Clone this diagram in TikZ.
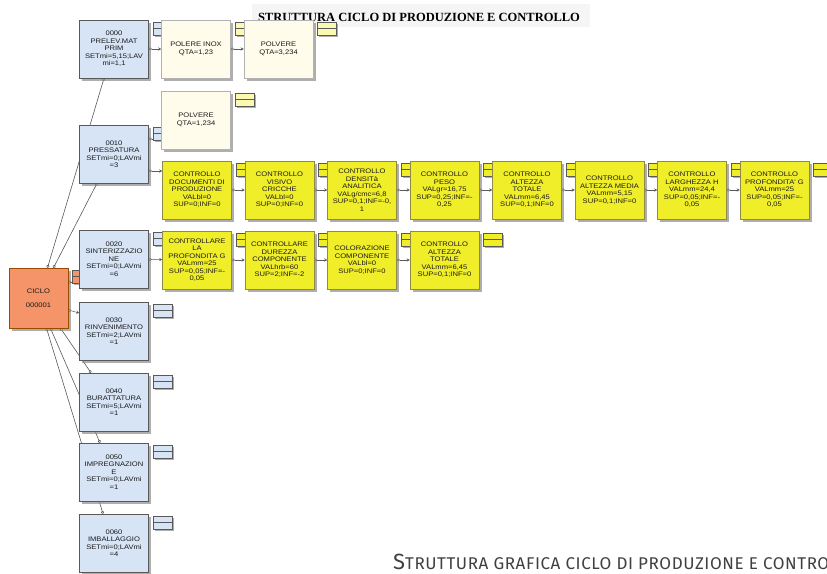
\documentclass[tikz,border=0pt]{standalone}
\usepackage{fontspec}
\setmainfont{Liberation Serif}
\newfontfamily\boxfont[FakeStretch=1.15]{Liberation Sans}
\newfontfamily\capfont[LetterSpace=3.5]{Fira Sans}
\usetikzlibrary{arrows.meta,positioning,shadows,backgrounds}
\definecolor{phasec}{RGB}{214,228,245}
\definecolor{ctrlc}{RGB}{240,238,40}
\definecolor{matc}{RGB}{255,252,236}
\definecolor{cicloc}{RGB}{245,148,104}
\definecolor{linec}{RGB}{90,90,90}

\begin{document}
\begin{tikzpicture}[x=1pt,y=-1pt,font=\boxfont\fontsize{6.6}{7.5}\selectfont,>=Stealth,node distance=13pt]
\tikzstyle{box}=[draw=gray!70!black,line width=0.5pt,minimum width=69pt,minimum height=58pt,inner sep=1pt,align=center,text=black!90,drop shadow={shadow xshift=2.5pt,shadow yshift=-2.5pt,fill=black!45,opacity=.7}]
\tikzstyle{fase}=[box,fill=phasec]
\tikzstyle{ctrl}=[box,fill=ctrlc,draw=olive!50!gray]
\tikzstyle{mat}=[box,fill=matc,draw=gray!60]
\tikzstyle{tabb}=[draw=gray!70!black,line width=0.5pt,minimum width=19pt,minimum height=13pt,inner sep=0pt,anchor=north west,drop shadow={shadow xshift=1.5pt,shadow yshift=-1.5pt,fill=black!45,opacity=.7}]
\tikzstyle{link}=[linec,line width=0.5pt,{Circle[open,length=3pt,width=3pt]}-{Stealth[length=3pt,width=3pt]}]
\tikzstyle{vlink}=[linec,line width=0.6pt,{Circle[open,length=3pt,width=3pt]}-{Circle[open,length=3pt,width=3pt]}]
\useasboundingbox (0,0) rectangle (827,573);
% titolo
\node[font=\rmfamily\bfseries\fontsize{12.5}{14}\selectfont,inner sep=1pt] (titolo) at (419,17) {STRUTTURA CICLO DI PRODUZIONE E CONTROLLO};
% ciclo
\node[box,fill=cicloc,draw=orange!60!black,minimum width=59pt,minimum height=60pt] (ciclo) at (38.5,298) {CICLO\\[7pt]000001};
% fasi
\node[fase] (p0) at (114,49) {0000\\PRELEV.MAT\\PRIM\\SETmi=5,15;LAV\\mi=1,1};
\node[fase] (p1) at (114,154) {0010\\PRESSATURA\\SETmi=0;LAVmi\\=3};
\node[fase] (p2) at (114,259) {0020\\SINTERIZZAZIO\\NE\\SETmi=0;LAVmi\\=6};
\node[fase] (p3) at (114,331) {0030\\RINVENIMENTO\\SETmi=2;LAVmi\\=1};
\node[fase] (p4) at (114,402) {0040\\BURATTATURA\\SETmi=5;LAVmi\\=1};
\node[fase] (p5) at (114,472) {0050\\IMPREGNAZION\\E\\SETmi=0;LAVmi\\=1};
\node[fase] (p6) at (114,543) {0060\\IMBALLAGGIO\\SETmi=0;LAVmi\\=4};
% materiali
\node[mat] (m1) at (196,49) {POLERE INOX\\QTA=1,23};
\node[mat,right=of m1] (m2) {POLVERE\\QTA=3,234};
\node[mat] (m3) at (196,120) {POLVERE\\QTA=1,234};
% controlli pressatura
\node[ctrl] (c1) at (197,190) {CONTROLLO\\DOCUMENTI DI\\PRODUZIONE\\VALbl=0\\SUP=0;INF=0};
\node[ctrl,right=of c1] (c2) {CONTROLLO\\VISIVO\\CRICCHE\\VALbl=0\\SUP=0;INF=0};
\node[ctrl,right=of c2] (c3) {CONTROLLO\\DENSITà\\ANALITICA\\VALg/cmc=6,8\\SUP=0,1;INF=-0,\\1};
\node[ctrl,right=of c3] (c4) {CONTROLLO\\PESO\\VALgr=16,75\\SUP=0,25;INF=-\\0,25};
\node[ctrl,right=of c4] (c5) {CONTROLLO\\ALTEZZA\\TOTALE\\VALmm=6,45\\SUP=0,1;INF=0};
\node[ctrl,right=of c5] (c6) {CONTROLLO\\ALTEZZA MEDIA\\VALmm=5,15\\SUP=0,1;INF=0};
\node[ctrl,right=of c6] (c7) {CONTROLLO\\LARGHEZZA H\\VALmm=24,4\\SUP=0,05;INF=-\\0,05};
\node[ctrl,right=of c7] (c8) {CONTROLLO\\PROFONDITA' G\\VALmm=25\\SUP=0,05;INF=-\\0,05};
% controlli sinterizzazione
\node[ctrl] (d1) at (197,260) {CONTROLLARE\\LA\\PROFONDITA G\\VALmm=25\\SUP=0,05;INF=-\\0,05};
\node[ctrl,right=of d1] (d2) {CONTROLLARE\\DUREZZA\\COMPONENTE\\VALhrb=60\\SUP=2;INF=-2};
\node[ctrl,right=of d2] (d3) {COLORAZIONE\\COMPONENTE\\VALbl=0\\SUP=0;INF=0};
\node[ctrl,right=of d3] (d4) {CONTROLLO\\ALTEZZA\\TOTALE\\VALmm=6,45\\SUP=0,1;INF=0};
% didascalia
\node[anchor=base west,inner sep=0pt,text=black!75,font=\capfont] (didascalia) at (393,569) {{\fontsize{22}{22}\selectfont S}{\fontsize{17}{17}\selectfont TRUTTURA GRAFICA CICLO DI PRODUZIONE E CONTROLLO}};

\begin{pgfonlayer}{background}
\fill[white] (0,0) rectangle (827,573);
\fill[gray!8] (252,4) rectangle (590,27);
% collegamenti del ciclo
\draw[vlink] ([xshift=9pt]ciclo.north) -- ([xshift=-10pt]p0.south);
\draw[vlink] ([xshift=15pt]ciclo.north) -- ([xshift=-17pt]p1.south);
\draw[link] ([yshift=16pt]ciclo.east) -- ([yshift=-23pt]p2.west);
\draw[link] ([yshift=-12pt]ciclo.east) -- ([yshift=18pt]p3.west);
\draw[vlink] ([xshift=22pt]ciclo.south) -- ([xshift=-23pt]p4.north);
\draw[vlink] ([xshift=12pt]ciclo.south) -- ([xshift=-14pt]p5.north);
\draw[vlink] ([xshift=8pt]ciclo.south) -- ([xshift=-11pt]p6.north);
% collegamenti orizzontali
\draw[link] (p0) -- (m1);
\draw[link] (m1) -- (m2);
\draw[link] ([yshift=15pt]p1.east) -- ([yshift=-19pt]m3.west);
\draw[link] ([yshift=-17pt]p1.east) -- ([yshift=19pt]c1.west);
\draw[link] (p2) -- (d1);
\foreach \a/\b in {c1/c2,c2/c3,c3/c4,c4/c5,c5/c6,c6/c7,c7/c8,d1/d2,d2/d3,d3/d4}
  \draw[link] (\a) -- (\b);
% linguette
\foreach \b/\c in {ciclo/cicloc,p0/phasec,p1/phasec,p2/phasec,p3/phasec,p4/phasec,p5/phasec,p6/phasec,m1/ctrlc!30!matc,m2/ctrlc!30!matc,m3/ctrlc!30!matc,c1/ctrlc,c2/ctrlc,c3/ctrlc,c4/ctrlc,c5/ctrlc,c6/ctrlc,c7/ctrlc,c8/ctrlc,d1/ctrlc,d2/ctrlc,d3/ctrlc,d4/ctrlc}{
  \node[tabb,fill=\c] (t\b) at ([xshift=4pt,yshift=-2pt]\b.north east) {};
  \draw[gray!70!black] (t\b.west) -- (t\b.east);
}
\end{pgfonlayer}
\end{tikzpicture}
\end{document}
